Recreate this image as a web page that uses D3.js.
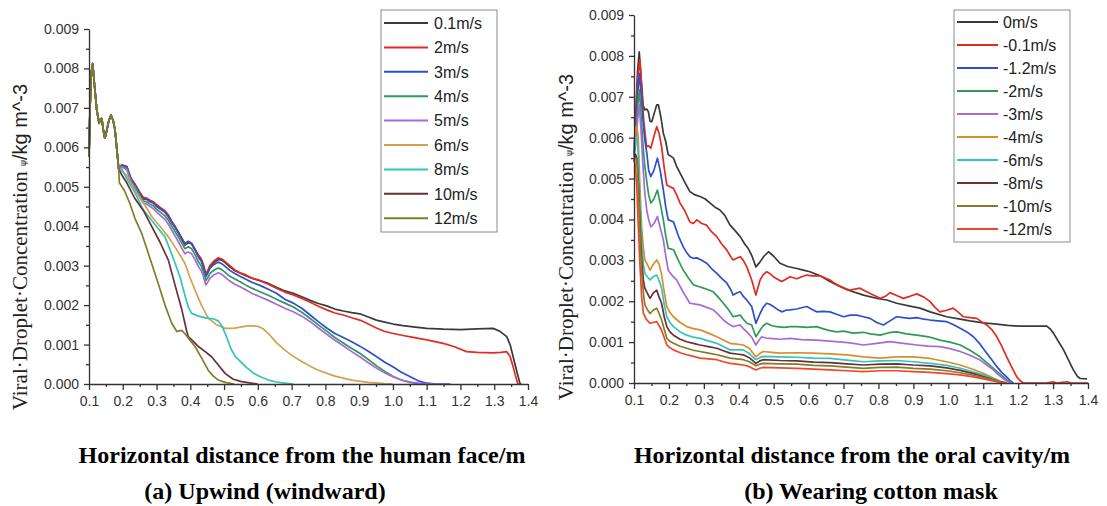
<!DOCTYPE html>
<html>
<head>
<meta charset="utf-8">
<script src="https://cdn.jsdelivr.net/npm/d3@7"></script>
<style>
  html, body { margin: 0; padding: 0; background: #fff; }
  svg { display: block; }
  .tick text { font-family: "Liberation Sans", Arial, sans-serif; font-size: 14px; fill: #333; }
  .axis path, .axis line { stroke: #333; stroke-width: 1.3; }
  .legend text { font-family: "Liberation Sans", Arial, sans-serif; font-size: 16px; fill: #222; }
  .caption { font-family: "Liberation Serif", "Times New Roman", serif; font-weight: bold; font-size: 24px; fill: #000; }
</style>
</head>
<body>
<svg id="chart" width="1107" height="506"></svg>
<script>
// ---- axis ticks ----
const xTicks = [0.1, 0.2, 0.3, 0.4, 0.5, 0.6, 0.7, 0.8, 0.9, 1.0, 1.1, 1.2, 1.3, 1.4];
const yTicks = [0, 0.001, 0.002, 0.003, 0.004, 0.005, 0.006, 0.007, 0.008, 0.009];

// ---- panel (a): upwind, concentration vs distance from the face ----
const labelsA = ["0.1m/s", "2m/s", "3m/s", "4m/s", "5m/s", "6m/s", "8m/s", "10m/s", "12m/s"];
const colorsA = ["#3a3a3a", "#e42a23", "#2d4fd0", "#2f9a55", "#a86ad6", "#d3a24a", "#33c4bd", "#6a2f38", "#7f7e2a"];

// common near-field profile shared by every wind speed (0.10–0.19 m)
const headA = [[0.100,0.00576],[0.103,0.00700],[0.107,0.00790],[0.111,0.00812],[0.116,0.00760],[0.123,0.00695],[0.130,0.00661],[0.134,0.00672],[0.138,0.00673],[0.143,0.00640],[0.147,0.00623],[0.152,0.00640],[0.158,0.00665],[0.165,0.00682],[0.171,0.00670],[0.177,0.00645],[0.183,0.00590],[0.188,0.00545]];

const a01 = [[0.197,0.00555],[0.212,0.00550],[0.224,0.00520],[0.236,0.00505],[0.250,0.00485],[0.261,0.00471],[0.271,0.00470],[0.281,0.00464],[0.291,0.00460],[0.300,0.00452],[0.312,0.00445],[0.324,0.00438],[0.335,0.00426],[0.345,0.00410],[0.355,0.00397],[0.365,0.00382],[0.375,0.00366],[0.384,0.00352],[0.394,0.00358],[0.404,0.00355],[0.414,0.00340],[0.424,0.00325],[0.432,0.00316],[0.438,0.00302],[0.446,0.00276],[0.452,0.00285],[0.458,0.00297],[0.470,0.00308],[0.483,0.00316],[0.493,0.00314],[0.503,0.00308],[0.517,0.00297],[0.532,0.00287],[0.550,0.00280],[0.566,0.00274],[0.582,0.00268],[0.606,0.00262],[0.631,0.00255],[0.655,0.00245],[0.680,0.00236],[0.705,0.00230],[0.730,0.00221],[0.755,0.00212],[0.779,0.00204],[0.804,0.00198],[0.828,0.00190],[0.853,0.00185],[0.878,0.00181],[0.902,0.00178],[0.927,0.00170],[0.951,0.00162],[0.976,0.00157],[1.001,0.00152],[1.030,0.00148],[1.060,0.00145],[1.100,0.00141],[1.150,0.00139],[1.199,0.00138],[1.250,0.00140],[1.297,0.00141],[1.318,0.00133],[1.337,0.00120],[1.347,0.00100],[1.356,0.00069],[1.366,0.00035],[1.376,0.00002],[1.380,0]];
const a2 = [[0.197,0.00556],[0.212,0.00552],[0.224,0.00522],[0.236,0.00507],[0.250,0.00487],[0.261,0.00473],[0.271,0.00471],[0.281,0.00466],[0.291,0.00462],[0.300,0.00455],[0.312,0.00447],[0.324,0.00440],[0.335,0.00429],[0.345,0.00413],[0.355,0.00400],[0.365,0.00384],[0.375,0.00368],[0.384,0.00354],[0.394,0.00360],[0.404,0.00357],[0.414,0.00342],[0.424,0.00327],[0.432,0.00318],[0.438,0.00305],[0.446,0.00280],[0.452,0.00288],[0.458,0.00300],[0.470,0.00312],[0.483,0.00320],[0.493,0.00317],[0.503,0.00310],[0.517,0.00300],[0.532,0.00289],[0.550,0.00281],[0.566,0.00276],[0.582,0.00269],[0.606,0.00262],[0.631,0.00253],[0.655,0.00243],[0.680,0.00233],[0.705,0.00226],[0.730,0.00217],[0.755,0.00207],[0.779,0.00197],[0.804,0.00188],[0.828,0.00180],[0.853,0.00175],[0.878,0.00168],[0.902,0.00162],[0.927,0.00152],[0.951,0.00142],[0.976,0.00133],[1.001,0.00128],[1.030,0.00123],[1.060,0.00118],[1.100,0.00112],[1.149,0.00103],[1.180,0.00095],[1.218,0.00082],[1.250,0.00080],[1.297,0.00079],[1.320,0.00080],[1.337,0.00082],[1.347,0.00070],[1.356,0.00044],[1.363,0.00020],[1.370,0],[1.380,0]];
const a3 = [[0.197,0.00554],[0.212,0.00550],[0.224,0.00520],[0.236,0.00505],[0.250,0.00483],[0.261,0.00468],[0.271,0.00468],[0.281,0.00462],[0.291,0.00458],[0.300,0.00450],[0.312,0.00443],[0.324,0.00436],[0.335,0.00424],[0.345,0.00410],[0.355,0.00397],[0.365,0.00385],[0.375,0.00370],[0.384,0.00356],[0.394,0.00362],[0.404,0.00356],[0.414,0.00340],[0.424,0.00322],[0.432,0.00312],[0.438,0.00298],[0.446,0.00272],[0.452,0.00282],[0.458,0.00293],[0.470,0.00303],[0.483,0.00309],[0.493,0.00305],[0.503,0.00298],[0.517,0.00288],[0.532,0.00280],[0.550,0.00272],[0.566,0.00265],[0.582,0.00258],[0.606,0.00250],[0.631,0.00240],[0.655,0.00230],[0.680,0.00215],[0.705,0.00205],[0.730,0.00192],[0.755,0.00175],[0.779,0.00158],[0.804,0.00142],[0.828,0.00128],[0.853,0.00118],[0.878,0.00107],[0.902,0.00096],[0.927,0.00083],[0.952,0.00069],[0.976,0.00055],[1.001,0.00043],[1.025,0.00030],[1.050,0.00019],[1.075,0.00008],[1.100,0.00002],[1.130,0],[1.170,0]];
const a4 = [[0.197,0.00552],[0.212,0.00546],[0.224,0.00515],[0.236,0.00500],[0.250,0.00478],[0.261,0.00463],[0.271,0.00462],[0.281,0.00456],[0.291,0.00451],[0.300,0.00443],[0.312,0.00435],[0.324,0.00427],[0.335,0.00415],[0.345,0.00400],[0.355,0.00386],[0.365,0.00372],[0.375,0.00357],[0.384,0.00343],[0.394,0.00348],[0.404,0.00343],[0.414,0.00328],[0.424,0.00310],[0.432,0.00300],[0.438,0.00286],[0.446,0.00262],[0.452,0.00270],[0.458,0.00280],[0.470,0.00289],[0.483,0.00294],[0.493,0.00290],[0.503,0.00283],[0.517,0.00273],[0.532,0.00266],[0.550,0.00258],[0.566,0.00250],[0.582,0.00243],[0.606,0.00234],[0.631,0.00225],[0.655,0.00215],[0.680,0.00205],[0.705,0.00195],[0.730,0.00182],[0.755,0.00166],[0.779,0.00150],[0.804,0.00134],[0.828,0.00118],[0.853,0.00104],[0.878,0.00090],[0.902,0.00078],[0.927,0.00062],[0.952,0.00046],[0.976,0.00032],[1.001,0.00019],[1.025,0.00010],[1.050,0.00004],[1.075,0.00001],[1.100,0],[1.150,0]];
const a5 = [[0.197,0.00550],[0.212,0.00543],[0.224,0.00512],[0.236,0.00496],[0.250,0.00473],[0.261,0.00458],[0.271,0.00456],[0.281,0.00450],[0.291,0.00444],[0.300,0.00436],[0.312,0.00427],[0.324,0.00418],[0.335,0.00405],[0.345,0.00390],[0.355,0.00375],[0.365,0.00360],[0.375,0.00344],[0.384,0.00330],[0.394,0.00335],[0.404,0.00330],[0.414,0.00315],[0.424,0.00298],[0.432,0.00288],[0.438,0.00275],[0.446,0.00251],[0.452,0.00259],[0.458,0.00268],[0.470,0.00277],[0.483,0.00282],[0.493,0.00278],[0.503,0.00271],[0.517,0.00261],[0.532,0.00253],[0.550,0.00245],[0.566,0.00238],[0.582,0.00230],[0.606,0.00221],[0.631,0.00212],[0.655,0.00202],[0.680,0.00192],[0.705,0.00183],[0.730,0.00172],[0.755,0.00158],[0.779,0.00142],[0.804,0.00126],[0.828,0.00111],[0.853,0.00097],[0.878,0.00082],[0.902,0.00069],[0.927,0.00054],[0.952,0.00040],[0.976,0.00028],[1.001,0.00018],[1.025,0.00010],[1.050,0.00005],[1.075,0.00002],[1.100,0],[1.150,0]];
const a6 = [[0.197,0.00540],[0.212,0.00528],[0.236,0.00490],[0.261,0.00460],[0.286,0.00424],[0.310,0.00400],[0.335,0.00373],[0.360,0.00340],[0.384,0.00306],[0.399,0.00270],[0.414,0.00238],[0.433,0.00200],[0.453,0.00167],[0.478,0.00150],[0.503,0.00141],[0.527,0.00141],[0.552,0.00145],[0.576,0.00148],[0.601,0.00146],[0.616,0.00140],[0.631,0.00128],[0.655,0.00105],[0.680,0.00086],[0.705,0.00070],[0.730,0.00057],[0.755,0.00045],[0.779,0.00035],[0.828,0.00020],[0.878,0.00010],[0.927,0.00004],[0.976,0.00001],[1.000,0]];
const a8 = [[0.197,0.00545],[0.212,0.00520],[0.236,0.00485],[0.261,0.00441],[0.290,0.00410],[0.325,0.00373],[0.340,0.00340],[0.355,0.00306],[0.370,0.00270],[0.384,0.00225],[0.394,0.00195],[0.404,0.00179],[0.424,0.00172],[0.448,0.00167],[0.470,0.00165],[0.483,0.00160],[0.495,0.00145],[0.508,0.00118],[0.520,0.00090],[0.533,0.00070],[0.547,0.00058],[0.566,0.00042],[0.586,0.00028],[0.606,0.00019],[0.631,0.00010],[0.655,0.00005],[0.680,0.00002],[0.705,0]];
const a10 = [[0.197,0.00530],[0.212,0.00510],[0.236,0.00470],[0.261,0.00440],[0.286,0.00399],[0.310,0.00360],[0.335,0.00314],[0.355,0.00250],[0.375,0.00188],[0.389,0.00135],[0.394,0.00120],[0.409,0.00108],[0.424,0.00095],[0.444,0.00082],[0.463,0.00069],[0.483,0.00048],[0.503,0.00027],[0.527,0.00012],[0.552,0.00006],[0.580,0.00002],[0.600,0]];
const a12 = [[0.190,0.00510],[0.205,0.00490],[0.220,0.00460],[0.236,0.00420],[0.256,0.00382],[0.280,0.00320],[0.305,0.00255],[0.325,0.00200],[0.345,0.00154],[0.360,0.00133],[0.374,0.00136],[0.384,0.00128],[0.400,0.00110],[0.414,0.00095],[0.434,0.00065],[0.453,0.00035],[0.468,0.00020],[0.483,0.00010],[0.503,0.00004],[0.530,0]];

const seriesA = [a01, a2, a3, a4, a5, a6, a8, a10, a12].map(t => headA.concat(t));

// ---- panel (b): cotton mask, concentration vs distance from the mouth ----
const labelsB = ["0m/s", "-0.1m/s", "-1.2m/s", "-2m/s", "-3m/s", "-4m/s", "-6m/s", "-8m/s", "-10m/s", "-12m/s"];
const colorsB = ["#3a3a3a", "#e42a23", "#2d4fd0", "#2f9a55", "#a86ad6", "#d98e2c", "#33c4bd", "#6a2f38", "#7f7e2a", "#f0472c"];

const b0 = [[0.100,0.00553],[0.105,0.0066],[0.110,0.0076],[0.115,0.0081],[0.121,0.0074],[0.126,0.0068],[0.131,0.00668],[0.136,0.0067],[0.141,0.00664],[0.146,0.0064],[0.151,0.00639],[0.158,0.0066],[0.165,0.0068],[0.170,0.0068],[0.177,0.0065],[0.184,0.00611],[0.191,0.0059],[0.198,0.00558],[0.205,0.00555],[0.213,0.0055],[0.222,0.0053],[0.232,0.00513],[0.246,0.0049],[0.260,0.00468],[0.275,0.0046],[0.289,0.00456],[0.304,0.0045],[0.318,0.0044],[0.332,0.0043],[0.346,0.00423],[0.360,0.0041],[0.375,0.00386],[0.390,0.00372],[0.404,0.00358],[0.417,0.0034],[0.427,0.00329],[0.438,0.0031],[0.449,0.00284],[0.460,0.00295],[0.472,0.0031],[0.485,0.00321],[0.500,0.0031],[0.518,0.00293],[0.540,0.00285],[0.566,0.0028],[0.585,0.00276],[0.604,0.00272],[0.633,0.00262],[0.661,0.00248],[0.681,0.0024],[0.710,0.00228],[0.757,0.00215],[0.800,0.00206],[0.824,0.00203],[0.852,0.00195],[0.890,0.00188],[0.919,0.00183],[0.948,0.00174],[0.995,0.00162],[1.030,0.00157],[1.062,0.00152],[1.100,0.00147],[1.139,0.00144],[1.170,0.00141],[1.205,0.00139],[1.250,0.00139],[1.282,0.00139],[1.292,0.00132],[1.301,0.00122],[1.315,0.00102],[1.330,0.00081],[1.345,0.00055],[1.358,0.00032],[1.370,0.00016],[1.378,0.00011],[1.397,0.0001]];
const b01 = [[0.100,0.0056],[0.105,0.0065],[0.111,0.0075],[0.117,0.0079],[0.122,0.0072],[0.128,0.0064],[0.136,0.00578],[0.142,0.0058],[0.148,0.00574],[0.156,0.006],[0.165,0.00627],[0.172,0.0061],[0.179,0.00578],[0.186,0.0053],[0.194,0.00484],[0.203,0.0048],[0.213,0.00476],[0.222,0.0046],[0.232,0.0044],[0.246,0.0042],[0.260,0.00394],[0.270,0.0039],[0.280,0.00399],[0.294,0.0039],[0.308,0.00386],[0.322,0.0037],[0.337,0.00358],[0.351,0.0034],[0.366,0.00325],[0.376,0.0031],[0.384,0.00301],[0.394,0.00305],[0.404,0.00309],[0.413,0.003],[0.423,0.00284],[0.437,0.00252],[0.449,0.00215],[0.461,0.00252],[0.470,0.00265],[0.480,0.00272],[0.490,0.00267],[0.499,0.0026],[0.511,0.00254],[0.523,0.00248],[0.535,0.00254],[0.547,0.0026],[0.566,0.00255],[0.580,0.0026],[0.595,0.00264],[0.610,0.00262],[0.633,0.00262],[0.661,0.00252],[0.681,0.0024],[0.700,0.00233],[0.719,0.00227],[0.747,0.00232],[0.776,0.00219],[0.805,0.00207],[0.820,0.00212],[0.833,0.00221],[0.852,0.00214],[0.871,0.00207],[0.890,0.00212],[0.910,0.00218],[0.930,0.0021],[0.948,0.00199],[0.962,0.00185],[0.976,0.00174],[0.995,0.00178],[1.014,0.00183],[1.030,0.00172],[1.043,0.00162],[1.062,0.0016],[1.081,0.00158],[1.095,0.0015],[1.110,0.00142],[1.125,0.0013],[1.139,0.00113],[1.153,0.0009],[1.167,0.00064],[1.182,0.00038],[1.196,0.00015],[1.205,0.00006],[1.215,0],[1.280,0],[1.300,0.00003],[1.310,0],[1.340,0.00003],[1.350,0],[1.400,0]];
const b12 = [[0.100,0.0056],[0.105,0.0062],[0.110,0.0070],[0.115,0.00757],[0.120,0.0071],[0.125,0.0065],[0.131,0.00594],[0.137,0.0056],[0.142,0.0052],[0.148,0.00505],[0.157,0.0052],[0.167,0.0055],[0.175,0.0052],[0.184,0.00472],[0.191,0.0043],[0.198,0.00399],[0.205,0.00397],[0.213,0.00394],[0.227,0.0036],[0.241,0.00333],[0.250,0.0032],[0.260,0.00309],[0.270,0.00305],[0.280,0.00306],[0.294,0.003],[0.308,0.00293],[0.322,0.0028],[0.337,0.00268],[0.351,0.00256],[0.366,0.00244],[0.376,0.0023],[0.384,0.00215],[0.394,0.0022],[0.404,0.00223],[0.413,0.00212],[0.423,0.00203],[0.437,0.00187],[0.449,0.00146],[0.461,0.0017],[0.470,0.00185],[0.480,0.00195],[0.490,0.00192],[0.499,0.00187],[0.511,0.0018],[0.523,0.00174],[0.535,0.00178],[0.547,0.00179],[0.566,0.00181],[0.580,0.00184],[0.595,0.00187],[0.610,0.0018],[0.623,0.00174],[0.640,0.00175],[0.661,0.00174],[0.680,0.00168],[0.700,0.00162],[0.719,0.00166],[0.738,0.00166],[0.757,0.00162],[0.776,0.00158],[0.795,0.00148],[0.814,0.00142],[0.833,0.00152],[0.852,0.00162],[0.871,0.0016],[0.890,0.00158],[0.910,0.0016],[0.930,0.00156],[0.948,0.00154],[0.970,0.00152],[0.995,0.0015],[1.014,0.00143],[1.034,0.00134],[1.053,0.00125],[1.072,0.00113],[1.091,0.00095],[1.110,0.00073],[1.125,0.00056],[1.139,0.0004],[1.153,0.00026],[1.167,0.00015],[1.177,0.00006],[1.186,0]];
const b2 = [[0.100,0.0056],[0.105,0.006],[0.110,0.0067],[0.115,0.00717],[0.120,0.0066],[0.125,0.0059],[0.131,0.00529],[0.137,0.0049],[0.142,0.0046],[0.148,0.0044],[0.157,0.0045],[0.167,0.00472],[0.175,0.0044],[0.184,0.00399],[0.191,0.0036],[0.198,0.00329],[0.205,0.00328],[0.213,0.00326],[0.227,0.003],[0.241,0.00276],[0.255,0.00258],[0.270,0.0024],[0.285,0.00236],[0.299,0.00232],[0.313,0.00228],[0.327,0.00223],[0.341,0.0021],[0.356,0.00195],[0.370,0.0018],[0.384,0.00162],[0.394,0.00164],[0.404,0.00166],[0.413,0.00156],[0.423,0.00146],[0.437,0.00142],[0.449,0.00113],[0.461,0.00129],[0.470,0.0014],[0.480,0.00146],[0.495,0.0014],[0.509,0.00138],[0.530,0.00136],[0.547,0.00138],[0.566,0.00138],[0.595,0.00136],[0.623,0.00138],[0.640,0.00133],[0.661,0.00128],[0.680,0.00125],[0.700,0.00127],[0.728,0.00122],[0.757,0.00124],[0.776,0.0012],[0.805,0.00117],[0.830,0.00123],[0.852,0.00125],[0.880,0.0012],[0.910,0.00117],[0.943,0.00113],[0.976,0.00105],[1.005,0.001],[1.034,0.00093],[1.062,0.0008],[1.091,0.00064],[1.110,0.0005],[1.129,0.00036],[1.144,0.00025],[1.158,0.00015],[1.170,0.00006],[1.182,0]];
const b3 = [[0.100,0.0055],[0.105,0.0059],[0.110,0.0064],[0.115,0.0068],[0.120,0.0062],[0.125,0.0054],[0.131,0.00464],[0.137,0.0042],[0.142,0.0040],[0.148,0.00382],[0.157,0.0039],[0.167,0.00407],[0.175,0.0038],[0.184,0.0035],[0.191,0.0031],[0.198,0.00276],[0.210,0.00262],[0.222,0.00252],[0.241,0.00222],[0.260,0.00195],[0.275,0.00193],[0.289,0.00191],[0.308,0.00185],[0.327,0.00179],[0.341,0.00168],[0.356,0.00154],[0.370,0.00145],[0.384,0.00138],[0.394,0.0014],[0.404,0.00142],[0.413,0.00133],[0.423,0.00125],[0.437,0.00112],[0.449,0.00093],[0.458,0.00105],[0.466,0.00113],[0.478,0.0011],[0.490,0.00109],[0.520,0.00107],[0.547,0.00109],[0.580,0.00106],[0.623,0.00105],[0.650,0.00103],[0.680,0.00101],[0.719,0.00098],[0.757,0.00093],[0.795,0.00097],[0.833,0.00101],[0.871,0.00097],[0.910,0.00093],[0.943,0.0009],[0.976,0.00089],[1.005,0.00084],[1.034,0.00077],[1.062,0.00068],[1.091,0.00056],[1.110,0.00044],[1.129,0.00032],[1.144,0.0002],[1.158,0.0001],[1.170,0.00003],[1.182,0]];
const b4 = [[0.100,0.0058],[0.104,0.0062],[0.108,0.0063],[0.112,0.006],[0.117,0.0048],[0.122,0.0038],[0.127,0.0033],[0.131,0.00301],[0.138,0.0029],[0.146,0.00276],[0.155,0.0029],[0.165,0.00301],[0.172,0.0029],[0.179,0.00265],[0.187,0.0022],[0.194,0.00187],[0.203,0.00172],[0.213,0.00162],[0.232,0.00148],[0.251,0.00138],[0.270,0.00133],[0.289,0.0013],[0.313,0.00122],[0.337,0.00113],[0.356,0.00105],[0.375,0.00097],[0.394,0.00095],[0.413,0.00093],[0.430,0.00085],[0.449,0.00064],[0.460,0.00072],[0.470,0.00077],[0.494,0.00075],[0.518,0.00073],[0.566,0.00074],[0.614,0.00073],[0.661,0.00071],[0.709,0.00069],[0.757,0.00064],[0.804,0.00061],[0.852,0.00064],[0.900,0.00064],[0.948,0.0006],[0.995,0.00052],[1.034,0.00044],[1.072,0.00033],[1.100,0.00024],[1.129,0.00012],[1.150,0.00004],[1.167,0]];
const b6 = [[0.100,0.0057],[0.104,0.006],[0.108,0.006],[0.112,0.0056],[0.117,0.0044],[0.122,0.0034],[0.127,0.0029],[0.131,0.00268],[0.138,0.0026],[0.146,0.00252],[0.155,0.0026],[0.165,0.00264],[0.172,0.0025],[0.179,0.00232],[0.187,0.0019],[0.194,0.00162],[0.203,0.00148],[0.213,0.00138],[0.232,0.00125],[0.251,0.00117],[0.270,0.00112],[0.289,0.00109],[0.313,0.00103],[0.337,0.00097],[0.356,0.00089],[0.375,0.00081],[0.394,0.00081],[0.413,0.00081],[0.430,0.00072],[0.449,0.00057],[0.460,0.00062],[0.470,0.00065],[0.518,0.00064],[0.566,0.00063],[0.614,0.00061],[0.661,0.0006],[0.709,0.00056],[0.757,0.00052],[0.804,0.00054],[0.852,0.00055],[0.900,0.00052],[0.948,0.00048],[0.995,0.00043],[1.034,0.00036],[1.072,0.00027],[1.100,0.0002],[1.129,0.0001],[1.150,0.00003],[1.167,0]];
const b8 = [[0.100,0.0054],[0.104,0.0056],[0.108,0.0055],[0.112,0.0050],[0.117,0.0039],[0.122,0.0030],[0.127,0.0025],[0.131,0.00232],[0.138,0.0022],[0.146,0.00207],[0.155,0.0022],[0.165,0.00227],[0.172,0.0021],[0.179,0.00195],[0.187,0.0016],[0.194,0.00138],[0.203,0.00125],[0.213,0.00117],[0.232,0.00107],[0.251,0.00101],[0.270,0.00097],[0.289,0.00093],[0.313,0.00089],[0.337,0.00085],[0.356,0.00079],[0.375,0.00073],[0.394,0.00071],[0.413,0.00069],[0.430,0.00062],[0.449,0.00048],[0.460,0.00054],[0.470,0.00057],[0.518,0.00055],[0.566,0.00054],[0.614,0.00051],[0.661,0.0005],[0.709,0.00047],[0.757,0.00044],[0.804,0.00046],[0.852,0.00047],[0.900,0.00044],[0.948,0.00042],[0.995,0.00037],[1.034,0.00031],[1.072,0.00023],[1.100,0.00016],[1.129,0.00008],[1.150,0.00002],[1.167,0]];
const b10 = [[0.100,0.0055],[0.106,0.0055],[0.110,0.0053],[0.114,0.0045],[0.118,0.0035],[0.122,0.0027],[0.127,0.0022],[0.131,0.00191],[0.138,0.0018],[0.146,0.0017],[0.155,0.00178],[0.165,0.00183],[0.172,0.0017],[0.179,0.00154],[0.187,0.0013],[0.194,0.00109],[0.203,0.00102],[0.213,0.00097],[0.232,0.0009],[0.251,0.00085],[0.270,0.0008],[0.289,0.00077],[0.313,0.00073],[0.337,0.00069],[0.356,0.00065],[0.375,0.00061],[0.394,0.00059],[0.413,0.00057],[0.430,0.00052],[0.449,0.00042],[0.460,0.00046],[0.470,0.00048],[0.518,0.00047],[0.566,0.00046],[0.614,0.00043],[0.661,0.00042],[0.709,0.00039],[0.757,0.00036],[0.804,0.00038],[0.852,0.00039],[0.900,0.00036],[0.948,0.00034],[0.995,0.0003],[1.034,0.00025],[1.072,0.00019],[1.100,0.00013],[1.129,0.00007],[1.150,0.00002],[1.167,0]];
const b12n = [[0.100,0.0055],[0.104,0.0053],[0.108,0.0048],[0.112,0.0039],[0.117,0.0029],[0.122,0.0021],[0.127,0.0017],[0.136,0.00155],[0.146,0.00146],[0.155,0.00148],[0.165,0.0015],[0.172,0.0014],[0.179,0.00129],[0.187,0.0011],[0.194,0.00093],[0.203,0.00086],[0.213,0.00081],[0.232,0.00074],[0.251,0.00069],[0.270,0.00065],[0.289,0.00061],[0.313,0.00059],[0.337,0.00057],[0.356,0.00052],[0.375,0.00048],[0.394,0.00046],[0.413,0.00044],[0.430,0.0004],[0.449,0.00032],[0.460,0.00036],[0.470,0.00038],[0.518,0.00037],[0.566,0.00036],[0.614,0.00034],[0.661,0.00032],[0.709,0.0003],[0.757,0.00028],[0.804,0.0003],[0.852,0.0003],[0.900,0.00028],[0.948,0.00026],[0.995,0.00023],[1.034,0.0002],[1.072,0.00015],[1.100,0.0001],[1.129,0.00005],[1.150,0.00001],[1.167,0]];

const seriesB = [b0, b01, b12, b2, b3, b4, b6, b8, b10, b12n];

// ---- drawing ----
const svg = d3.select("#chart");

function drawPanel(cfg) {
  const x = d3.scaleLinear().domain([0.1, 1.4]).range([cfg.x0, cfg.x1]);
  const y = d3.scaleLinear().domain([0, 0.009]).range([cfg.y0, cfg.y1]);
  const g = svg.append("g");

  // minor ticks (halfway between labelled ticks)
  const xMinor = d3.range(0.15, 1.4, 0.1);
  const yMinor = d3.range(0.0005, 0.009, 0.001);
  g.append("g").attr("class", "axis").attr("transform", `translate(0,${cfg.y0})`)
    .call(d3.axisBottom(x).tickValues(xMinor).tickSize(3).tickFormat(""))
    .call(s => s.select(".domain").remove());
  g.append("g").attr("class", "axis").attr("transform", `translate(${cfg.x0},0)`)
    .call(d3.axisLeft(y).tickValues(yMinor).tickSize(3).tickFormat(""))
    .call(s => s.select(".domain").remove());

  // series lines
  const line = d3.line().x(d => x(d[0])).y(d => y(d[1])).curve(d3.curveLinear);
  g.append("g").selectAll("path").data(cfg.series).join("path")
    .attr("d", line)
    .attr("fill", "none")
    .attr("stroke", (d, i) => cfg.colors[i])
    .attr("stroke-width", 1.7)
    .attr("stroke-linejoin", "round");

  // major axes
  g.append("g").attr("class", "axis").attr("transform", `translate(0,${cfg.y0})`)
    .call(d3.axisBottom(x).tickValues(xTicks).tickSize(6).tickSizeOuter(0).tickPadding(6).tickFormat(d3.format(".1f")));
  g.append("g").attr("class", "axis").attr("transform", `translate(${cfg.x0},0)`)
    .call(d3.axisLeft(y).tickValues(yTicks).tickSize(5).tickSizeOuter(0).tickPadding(5).tickFormat(d3.format(".3f")));

  // legend
  const lg = g.append("g").attr("class", "legend");
  lg.append("rect")
    .attr("x", cfg.legend.x).attr("y", cfg.legend.y)
    .attr("width", cfg.legend.w).attr("height", cfg.legend.h)
    .attr("fill", "#fff").attr("stroke", "#8a8a8a").attr("stroke-width", 1);
  const items = lg.selectAll("g.item").data(cfg.labels).join("g").attr("class", "item")
    .attr("transform", (d, i) => `translate(${cfg.legend.x},${cfg.legend.firstY + i * cfg.legend.step})`);
  items.append("line")
    .attr("x1", cfg.legend.lx1).attr("x2", cfg.legend.lx2)
    .attr("stroke", (d, i) => cfg.colors[i]).attr("stroke-width", 2);
  items.append("text")
    .attr("x", cfg.legend.tx).attr("dy", "0.36em")
    .text(d => d);

  // y-axis title
  const t = svg.append("text")
    .attr("transform", `translate(${cfg.titleX},${cfg.titleY}) rotate(-90)`)
    .attr("text-anchor", "middle")
    .attr("dominant-baseline", "central")
    .attr("fill", "#222");
  t.append("tspan").attr("font-family", "'Liberation Serif', 'Times New Roman', serif")
    .attr("font-size", 21).text("Viral·Droplet·Concentration ");
  t.append("tspan").attr("font-family", "'DejaVu Sans', sans-serif")
    .attr("font-size", 9).attr("dy", 3).text("ψ");
  t.append("tspan").attr("font-family", "'Liberation Sans', Arial, sans-serif")
    .attr("font-size", 20).attr("dy", -3).text("/kg m^-3");

  // captions
  svg.append("text").attr("class", "caption").attr("text-anchor", "middle")
    .attr("x", cfg.cap1X).attr("y", 463).text(cfg.cap1);
  svg.append("text").attr("class", "caption").attr("text-anchor", "middle")
    .attr("x", cfg.cap2X).attr("y", 499).text(cfg.cap2);
}

drawPanel({
  x0: 89, x1: 528, y0: 384, y1: 29,
  series: seriesA, colors: colorsA, labels: labelsA,
  legend: { x: 381, y: 10, w: 116, h: 222, firstY: 23, step: 24.4, lx1: 3, lx2: 47, tx: 53 },
  titleX: 20, titleY: 247,
  cap1: "Horizontal distance from the human face/m", cap1X: 302,
  cap2: "(a) Upwind (windward)", cap2X: 265
});

drawPanel({
  x0: 634, x1: 1088, y0: 383, y1: 15,
  series: seriesB, colors: colorsB, labels: labelsB,
  legend: { x: 954, y: 10, w: 116, h: 232, firstY: 22, step: 23.0, lx1: 3, lx2: 44, tx: 49 },
  titleX: 566, titleY: 237,
  cap1: "Horizontal distance from the oral cavity/m", cap1X: 852,
  cap2: "(b) Wearing cotton mask", cap2X: 871
});
</script>
</body>
</html>
